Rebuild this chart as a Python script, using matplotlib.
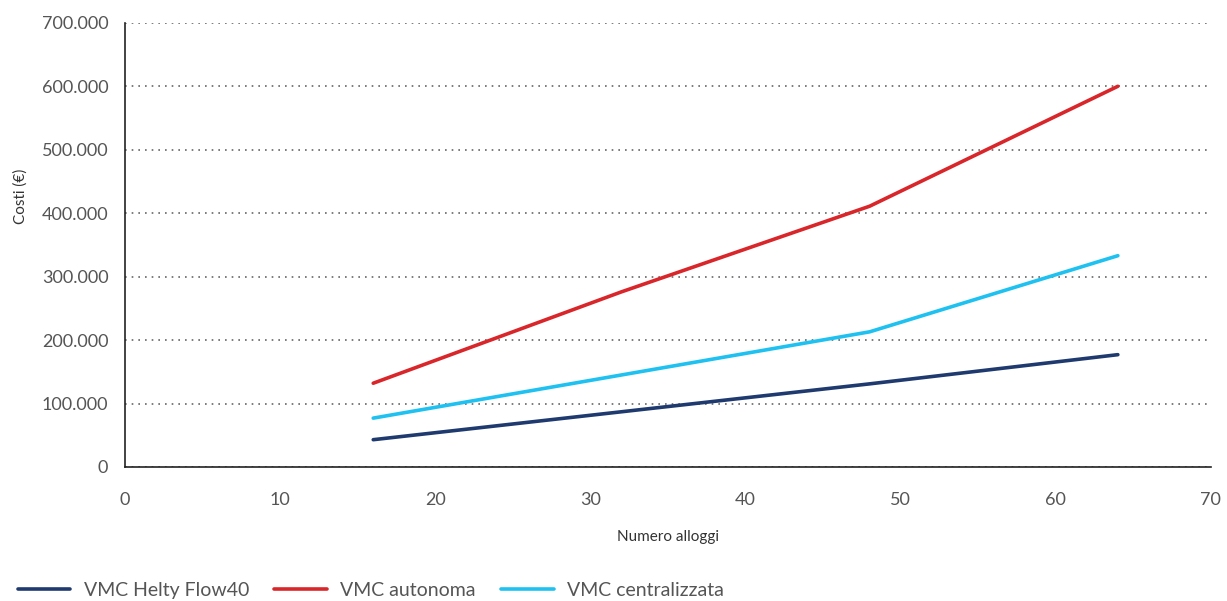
import matplotlib.pyplot as plt
from matplotlib.ticker import FuncFormatter

plt.rcParams['font.family'] = ['Lato', 'DejaVu Sans']

alloggi = [16, 32, 48, 64]
helty = [43000, 87000, 131000, 177000]
autonoma = [132000, 276000, 411000, 600000]
centralizzata = [77000, 145000, 213000, 333000]

serie = [
    ("VMC Helty Flow40", helty, "#1f3a6e"),
    ("VMC autonoma", autonoma, "#d9262a"),
    ("VMC centralizzata", centralizzata, "#1ec1f0"),
]

testo = "#555555"

fig = plt.figure(figsize=(12.27, 6.01), dpi=100)
ax = fig.add_axes([0.1019, 0.223, 0.885, 0.739])

for nome, valori, colore in serie:
    ax.plot(alloggi, valori, color=colore, lw=2.6, label=nome, solid_capstyle="round")

ax.set_xlim(0, 70)
ax.set_ylim(0, 700000)
ax.set_xticks(range(0, 71, 10))
ax.set_yticks(range(0, 700001, 100000))
ax.yaxis.set_major_formatter(FuncFormatter(lambda v, p: f"{int(v):,}".replace(",", ".")))

ax.grid(axis="y", linestyle=(0, (1, 3)), color="#666666", lw=1.2)
ax.set_axisbelow(True)
for s in ["top", "right"]:
    ax.spines[s].set_visible(False)
for s in ["left", "bottom"]:
    ax.spines[s].set_color("#222222")
    ax.spines[s].set_linewidth(1.2)

ax.tick_params(length=0, labelsize=13, colors=testo)
ax.tick_params(axis="x", pad=18)
ax.tick_params(axis="y", pad=12)

ax.set_xlabel("Numero alloggi", fontsize=11, color="#333333", labelpad=16)
ax.set_ylabel("Costi (€)", fontsize=11, color="#333333")
ax.yaxis.set_label_coords(-0.09, 0.61)

fig.legend(loc="lower left", bbox_to_anchor=(0.0, -0.025), ncol=3, frameon=False,
           fontsize=14, labelcolor=testo, handlelength=2.7, columnspacing=1.3,
           handletextpad=0.7)

fig.savefig("out.png", dpi=100)
